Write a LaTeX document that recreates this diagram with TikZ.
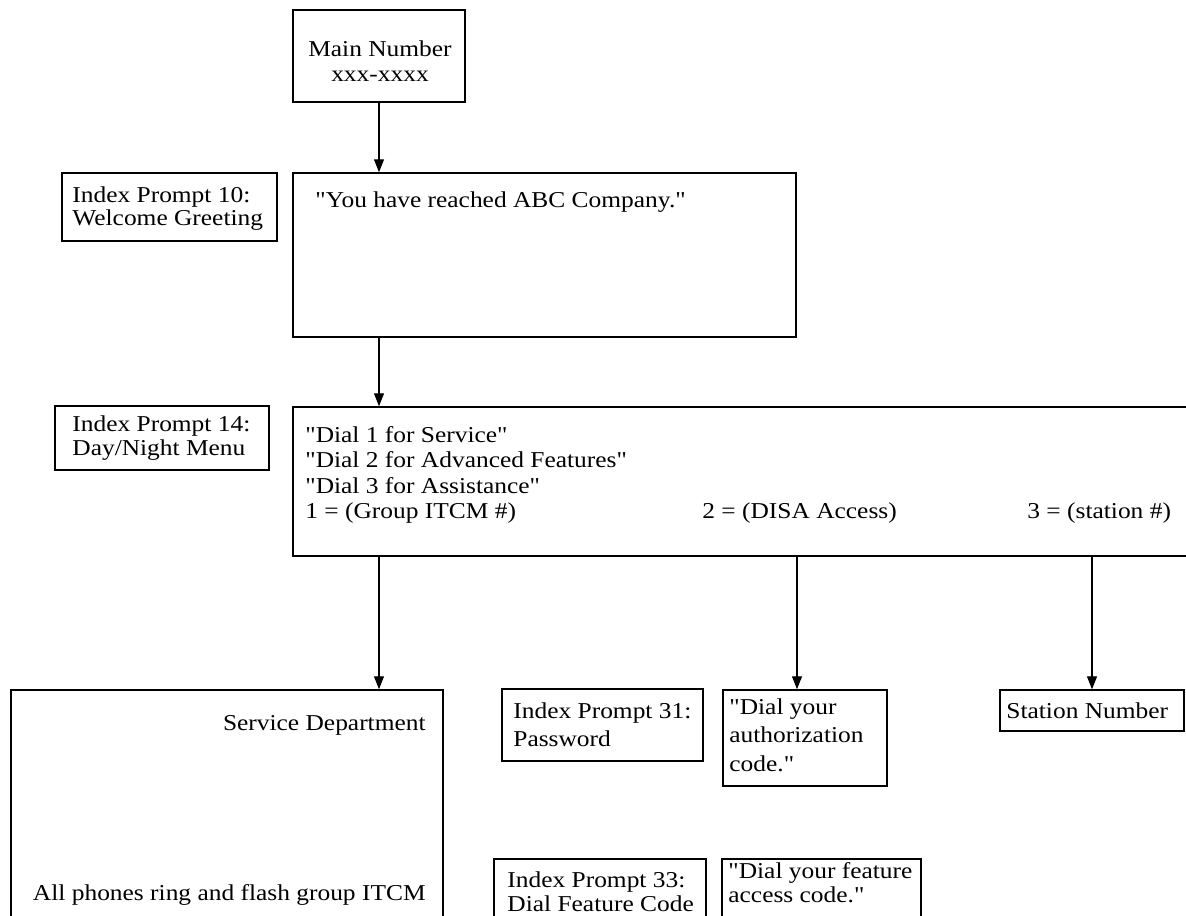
\documentclass[tikz,border=0pt]{standalone}
\usepackage{fontspec}
\setmainfont{Liberation Serif}[FakeStretch=1.12, Ligatures=TeXOff]
\usetikzlibrary{arrows.meta,fit}
\begin{document}
\begin{tikzpicture}[x=0.5pt,y=-0.5pt,
  box/.style={draw, line width=0.75pt, inner sep=0pt, fit={#1}},
  txt/.style={inner sep=0pt, anchor=north west, align=left},
  one/.style={inner sep=0pt, font=\fontsize{11.35}{13}\selectfont},
  skip/.style={font=\fontsize{11.35}{#1}\selectfont},
  arr/.style={-{Triangle[length=6.5pt,width=5pt]}, line width=0.65pt}
]
\useasboundingbox (0,0) rectangle (1186,915);
\clip (0,0) rectangle (1186,915);

% boxes (pixel coordinates, y downwards)
\node[box={(293,10) (465,102)}] (main) {};
\node[box={(62,173) (277,241)}] (p10) {};
\node[box={(293,173) (796,337)}] (greet) {};
\node[box={(55,406) (269,470)}] (p14) {};
\node[box={(293,407) (1200,556)}] (menu) {};
\node[box={(11,690) (443,935)}] (serv) {};
\node[box={(502,689) (703,761)}] (p31) {};
\node[box={(723,690) (887,786)}] (auth) {};
\node[box={(1000,690) (1184,731)}] (stat) {};
\node[box={(494,859) (706,935)}] (p33) {};
\node[box={(722,859) (921,935)}] (feat) {};

% texts
\node[txt, skip=12.5, anchor=north, align=center] (mainT) at (380,40) {Main Number\\xxx-xxxx};
\node[txt, skip=11.5] (p10T) at (72,186.5) {Index Prompt 10:\\Welcome Greeting};
\node[txt, skip=13] (greetT) at (315,191.5) {"You have reached ABC Company."};
\node[txt, skip=11.75] (p14T) at (72,415.5) {Index Prompt 14:\\Day/Night Menu};
\node[txt, skip=12.75] (menuT) at (305,426) {"Dial 1 for Service"\\"Dial 2 for Advanced Features"\\"Dial 3 for Assistance"};
\node[one, anchor=base west] (opt1) at (305,518) {1 = (Group ITCM \#)};
\node[one, anchor=base west] (opt2) at (702,518) {2 = (DISA Access)};
\node[one, anchor=base west] (opt3) at (1027,518) {3 = (station \#)};
\node[one, anchor=base east] (servA) at (426,730) {Service Department};
\node[one, anchor=base east] (servB) at (426,900) {All phones ring and flash group ITCM};
\node[txt, skip=13.75] (p31T) at (513,702.5) {Index Prompt 31:\\Password};
\node[txt, skip=14.25] (authT) at (729,698) {"Dial your\\authorization\\code."};
\node[one, anchor=base west] (statT) at (1006,718) {Station Number};
\node[txt, skip=12] (p33T) at (507,871.5) {Index Prompt 33:\\Dial Feature Code};
\node[txt, skip=12] (featT) at (728,862.5) {"Dial your feature\\access code."};

% connectors
\draw[arr] (main.south) -- (main.south |- greet.north);
\draw[arr] (main.south |- greet.south) -- (main.south |- menu.north);
\draw[arr] (main.south |- menu.south) -- (main.south |- serv.north);
\draw[arr] ([xshift=-4pt]auth.north |- menu.south) -- ([xshift=-4pt]auth.north);
\draw[arr] (stat.north |- menu.south) -- (stat.north);
\end{tikzpicture}
\end{document}
